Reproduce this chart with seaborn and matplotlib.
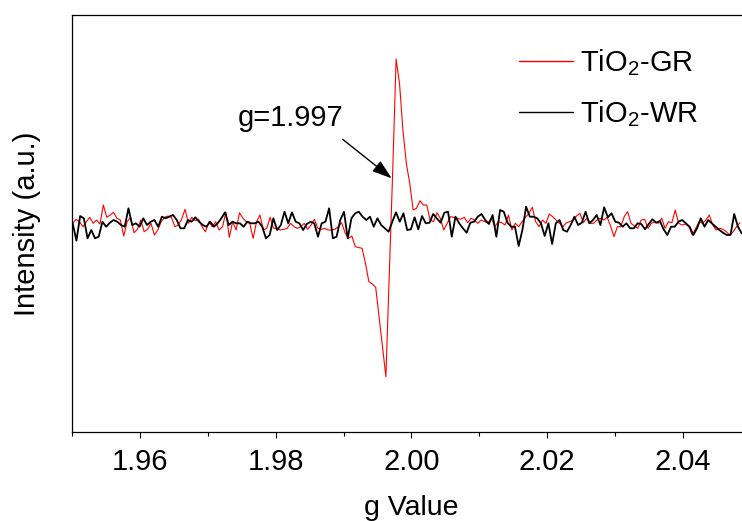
import numpy as np
import pandas as pd
import matplotlib
matplotlib.use("Agg")
import matplotlib.pyplot as plt
from matplotlib.ticker import MultipleLocator, FormatStrFormatter
import seaborn as sns

# ---------------- data ----------------
series_names = ["TiO$_2$-GR", "TiO$_2$-WR"]
series_colors = ["#ff0000", "#000000"]

gr_g_range = [1.95003, 2.04845]
gr_intensity = [
    -1.3, 2.7, 0.3, -4.7, 0.3, 4.7, -1.3, 2, -2, 17, 4.7,
    7, 9.7, 3.7, 2, -14, 0.3, 4.7, -10.7, -7.3, 2,
    -9.7, -7.3, -1.3, -13, -8, 0.3, 4.7, 6, 4.7, -4.7,
    -3, 2.7, 12.7, -1.3, 4.7, 1.3, 2.7, -4.7, -9.7, 0.3,
    -4.7, 0.3, -8, -4.7, 9.7, -15.3, 0.3, -8, 9.3, 3.7,
    0.3, -1.3, -16.3, 0.3, 7, -8, -6.3, 4.7, -6.3, -6.3,
    -8, -7.3, -6.3, -1.3, -4.7, -6.3, -4.7, -1.3, -7.3, -3,
    2.7, -6.3, -7.3, -6.3, -8, -8, -7.3, -4.7, -0.7, -10.7,
    -16.3, -14, -24.7, -25.5, -26.3, -41.3, -59.7, -62, -65.3, -94.7, -124.7, -154.7,
    -52, 51, 163, 138.7, 92, 58.7, 38.7, 12, 13.7, 21.3, 17, 17,
    2, 0.3, 9.3, 3.7, -8, -1.3, 5.3, 4.7, 3.7, 2.7,
    4.7, -0.7, 3.7, 2, -1.3, 2, 0.3, -0.7, 3.7, -4.7,
    0.3, -0.7, -3, 7, -8, -1.3, -4.7, 0.3, 4.7, 8.7,
    14.7, 0.3, -4.7, 2, -1.3, 8, 5.3, 2, -1.3, -4.7,
    -0.7, 0.3, 2, 6, 8.7, -0.7, 3.7, -1.3, -1.3, 2,
    3.7, 2, 4.7, -4, -14.7, -4.7, -4.7, 5.3, 10.3, -1.3,
    -4, -6.3, 2, 2.7, -6.3, -1.3, 0.3, -1.3, 3.7, -6.3,
    0.3, -0.7, 12, -1.3, -3, -2, -4.7, -13, -6.3, 0.3,
    -1.3, 2, 7, -3, -8, -6.3, -7.3, -9.7, -13, -9.7,
    -4.7, -0.7,
]

wr_g_range = [1.95003, 2.04870]
wr_intensity = [
    -1.3, -18.7, 6, 3.7, -16.3, -8, -16.3, -14.7, 0.3, -4.7,
    -0.7, 2, 0.3, -3, -4.7, 13.7, -3, -1.3, -4.7, 3.7,
    -3, 0.3, 2, -4.7, 5.3, 3.7, 5.3, 7, 2, -6.3,
    -6.3, 2, 0.3, 4.7, 0.3, -3, -4.7, 0.3, -4.7, -1.3,
    3.7, 9.7, -3, 0.3, -1.3, -1.3, -4.7, 0.3, -1.3, -1.3,
    0.3, -4.7, -16.3, -13, 3.7, -8, -3, 10.3, -1.3, 9.7,
    0.3, -1.3, -8, -2, 0.3, -1.3, -14.7, -1.3, 0.3, 13.7,
    -16.3, -14.7, 2, 10.3, -16.3, 3.7, 8.7, 10.3, 5.3, 2,
    5.3, -4.7, 3.7, -3, -6.3, -9.7, 0.3, 9.7, 0.3, 8.7,
    -8,
    -7.3, 4.7, -7.3, 6, -1.3, -0.7, 8, 3.7, -0.7,
    9.3, 10.3, -14.7, 5.3, -1.3, -6.3, -10.7, -0.7, 0.3, 5.3,
    8, 2, -2, 7, -14.7, 12, 10.3, -0.7, -4.7, -4.7,
    -24, -8, 15.3, 5.3, 5.3, 3.7, -1.3, -14, -1.3, -22,
    -1.3, 2, -8, -9.7, -3, 5.3, -3, -0.7, 10.3, -1.3,
    2, 7, -3, 14.7, 4.7, 8.7, 0.3, -0.7, -4.7, -1.3,
    -6.3, -6.3, -1.3, -2, -7.3, -2, 2.7, -0.7, 1, -7.3,
    -13, -4.7, -4.7, 0.3, 2, -1.3, -4.7, -13, -6.3, 3.7,
    -4.7, 2, -1.3, -4.7, -8, -10.7, -13, -13, 8, -4.7,
    -11.3,
]

annot_text = "g=1.997"
annot_text_pos = [1.97441, 96]
annot_arrow_tail = [1.98985, 82.7]
annot_arrow_head = [1.99708, 43.7]

x_limits = [1.95, 2.05]
y_limits = [-210, 207]
x_label = "g Value"
y_label = "Intensity (a.u.)"

# ---------------- style ----------------
sns.set_style("ticks")
plt.rcParams["font.family"] = ["Liberation Sans", "DejaVu Sans"]
plt.rcParams["mathtext.fontset"] = "custom"
plt.rcParams["mathtext.rm"] = "Liberation Sans"
plt.rcParams["mathtext.it"] = "Liberation Sans:italic"
plt.rcParams["mathtext.bf"] = "Liberation Sans:bold"
plt.rcParams["mathtext.default"] = "regular"
plt.rcParams["text.color"] = "black"
plt.rcParams["axes.labelcolor"] = "black"
plt.rcParams["xtick.color"] = "black"
plt.rcParams["ytick.color"] = "black"
plt.rcParams["axes.edgecolor"] = "black"

gr_g = np.linspace(gr_g_range[0], gr_g_range[1], len(gr_intensity))
wr_g = np.linspace(wr_g_range[0], wr_g_range[1], len(wr_intensity))
df = pd.concat([
    pd.DataFrame({"g": gr_g, "I": gr_intensity, "sample": series_names[0]}),
    pd.DataFrame({"g": wr_g, "I": wr_intensity, "sample": series_names[1]}),
], ignore_index=True)

fig = plt.figure(figsize=(7.42, 5.21), dpi=100)
ax = fig.add_axes([0.0977, 0.1708, 0.9137, 0.8004])

widths = {series_names[0]: 0.8, series_names[1]: 1.3}
for name, color in zip(series_names, series_colors):
    sub = df[df["sample"] == name]
    sns.lineplot(data=sub, x="g", y="I", color=color, lw=widths[name],
                 estimator=None, sort=False, ax=ax, label=name)

ax.set_xlim(*x_limits)
ax.set_ylim(*y_limits)
ax.set_yticks([])
ax.xaxis.set_major_locator(MultipleLocator(0.02))
ax.xaxis.set_minor_locator(MultipleLocator(0.01))
ax.xaxis.set_major_formatter(FormatStrFormatter("%.2f"))
ax.tick_params(axis="x", which="major", direction="out", length=4.5, width=0.8,
               labelsize=21, pad=7, colors="black", labelcolor="black")
ax.tick_params(axis="x", which="minor", direction="out", length=3, width=0.8)
for s in ax.spines.values():
    s.set_linewidth(0.9)
    s.set_color("black")

ax.set_xlabel(x_label, fontsize=20.5, color="black")
ax.set_ylabel(y_label, fontsize=21, color="black")
ax.xaxis.set_label_coords(0.5, -0.150)
ax.yaxis.set_label_coords(-0.046, 0.5)

ax.text(annot_text_pos[0], annot_text_pos[1], annot_text, fontsize=21,
        ha="left", va="baseline", color="black")
ax.annotate("", xy=annot_arrow_head, xytext=annot_arrow_tail,
            arrowprops=dict(arrowstyle="-|>,head_length=0.6,head_width=0.2",
                            color="black", lw=1.0, mutation_scale=20,
                            shrinkA=0, shrinkB=0))

leg = ax.legend(loc="upper left", bbox_to_anchor=(0.6585, 0.922), frameon=False,
                fontsize=21, handlelength=1.86, handletextpad=0.22,
                labelspacing=0.68, borderpad=0, borderaxespad=0)
for line in leg.get_lines():
    line.set_linewidth(1.0)
for t in leg.get_texts():
    t.set_color("black")

fig.savefig("out.png", dpi=100)
